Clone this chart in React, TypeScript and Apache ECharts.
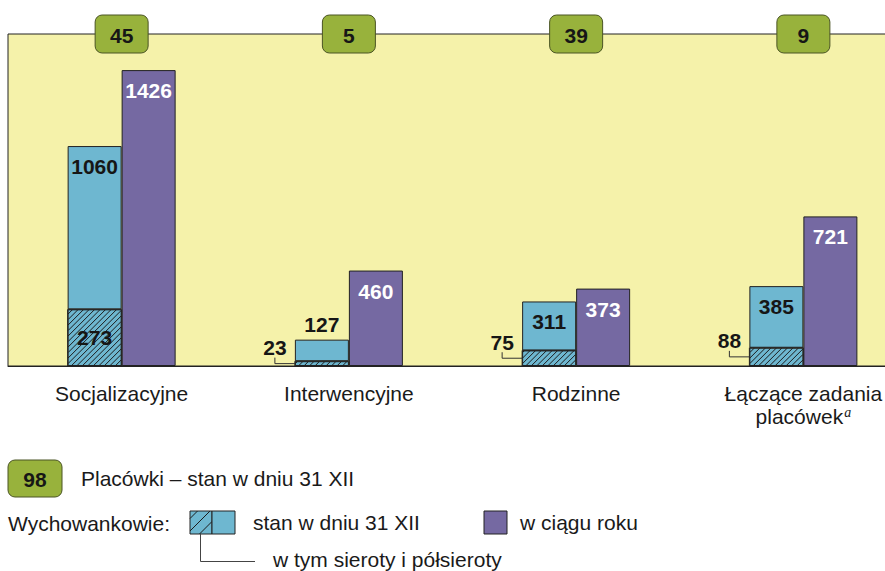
import React, { useEffect, useRef } from "react";
import * as echarts from "echarts";

const categories = ["Socjalizacyjne", "Interwencyjne", "Rodzinne", "Łączące zadania\nplacówek"];
const footnotes = ["", "", "", "a"];
const institutions = [45, 5, 39, 9];
const residentsEndOfYear = [1060, 127, 311, 385];
const orphans = [273, 23, 75, 88];
const residentsDuringYear = [1426, 460, 373, 721];
const institutionsTotal = 98;
const yMax = 1600;

const FONT = "Liberation Sans, Arial, sans-serif";
const FS = 21;
const BLUE = "#6EB7D0";
const PURPLE = "#7569A2";
const GREEN = "#98B23C";
const YELLOW = "#F5F2AA";
const DARK = "#1c1c1c";
const BAR_W = 54;
const HATCH_STEP = 5.5;

function hatch(left: number, top: number, right: number, bottom: number, step: number, stroke: string) {
  const out: any[] = [];
  for (let c = right + bottom; c > left + top; c -= step) {
    const x1 = Math.max(left, c - bottom);
    const x2 = Math.min(right, c - top);
    if (x2 - x1 > 0.3) {
      out.push({
        type: "line",
        shape: { x1, y1: c - x1, x2, y2: c - x2 },
        style: { stroke, lineWidth: 1 },
      });
    }
  }
  return out;
}

export default function App() {
  const ref = useRef<HTMLDivElement>(null);
  useEffect(() => {
    if (!ref.current) return;
    const chart = echarts.init(ref.current, undefined, { renderer: "svg" });

    const rest = residentsEndOfYear.map((t, i) => ({
      value: t - orphans[i],
      label: t < 200 ? { position: "top", distance: 5 } : { position: "insideTop", distance: 10 },
    }));

    const sx = 190, sy = 511, sw = 22, sh = 23;
    const legendHatch = hatch(sx, sy, sx + sw, sy + sh, 12.5, DARK);

    const txt = (text: string, x: number, y: number, extra: any = {}) => ({
      type: "text",
      x,
      y,
      style: {
        text,
        fill: "#1a1a1a",
        font: `${FS}px ${FONT}`,
        verticalAlign: "middle",
        textVerticalAlign: "middle",
        ...extra,
      },
    });

    chart.setOption({
      animation: false,
      grid: {
        left: 8,
        top: 34,
        width: 909,
        height: 332,
        outerBoundsMode: "none",
        containLabel: false,
        show: true,
        backgroundColor: YELLOW,
        borderColor: "#222",
        borderWidth: 1,
      },
      xAxis: {
        type: "category",
        data: categories,
        axisLine: { show: true, lineStyle: { color: "#222", width: 1 } },
        axisTick: { show: false },
        axisLabel: {
          margin: 16,
          interval: 0,
          hideOverlap: false,
          formatter: (value: string, idx: number) => {
            const lines = value.split("\n");
            const note = footnotes[idx];
            return lines
              .map((l, i) => `{n|${l}}` + (i === lines.length - 1 && note ? `{s|${note}}` : ""))
              .join("\n");
          },
          rich: {
            n: { fontSize: FS, fontFamily: FONT, color: "#1a1a1a", lineHeight: 23 },
            s: {
              fontSize: 14,
              fontFamily: "Liberation Serif, serif",
              fontStyle: "italic",
              color: "#1a1a1a",
              verticalAlign: "top",
              lineHeight: 23,
              padding: [0, 0, 10, 1],
            },
          },
        },
      },
      yAxis: { type: "value", min: 0, max: yMax, show: false, splitLine: { show: false } },
      series: [
        {
          type: "bar",
          stack: "end",
          data: orphans,
          barWidth: BAR_W,
          barGap: 0,
          itemStyle: { color: BLUE, borderColor: "#222", borderWidth: 1 },
          silent: true,
        },
        {
          type: "bar",
          stack: "end",
          data: rest,
          barWidth: BAR_W,
          barGap: 0,
          itemStyle: { color: BLUE, borderColor: "#222", borderWidth: 1 },
          label: {
            show: true,
            formatter: (p: any) => String(residentsEndOfYear[p.dataIndex]),
            color: "#161616",
            fontSize: FS,
            fontWeight: "bold",
            fontFamily: FONT,
          },
          silent: true,
        },
        {
          type: "bar",
          data: residentsDuringYear,
          barWidth: BAR_W,
          barGap: 0,
          itemStyle: { color: PURPLE, borderColor: "#222", borderWidth: 1 },
          label: {
            show: true,
            position: "insideTop",
            distance: 10,
            color: "#ffffff",
            fontSize: FS,
            fontWeight: "bold",
            fontFamily: FONT,
          },
          silent: true,
        },
        {
          type: "custom",
          data: orphans.map((v, i) => [i, v]),
          z: 10,
          silent: true,
          clip: false,
          renderItem: (params: any, api: any) => {
            const idx = api.value(0);
            const v = api.value(1);
            const base = api.coord([idx, 0]);
            const top = api.coord([idx, v]);
            const left = base[0] - BAR_W;
            const h = base[1] - top[1];
            const cy = (base[1] + top[1]) / 2;
            const font = `bold ${FS}px ${FONT}`;
            const lines = hatch(left + 0.5, top[1] + 0.5, base[0] - 0.5, base[1] - 0.5, HATCH_STEP, DARK);
            lines.push({
              type: "rect",
              shape: { x: left, y: top[1], width: BAR_W, height: h },
              style: { fill: null, stroke: "#222", lineWidth: 1 },
            });
            if (h > 30) {
              return {
                type: "group",
                children: [
                  ...lines,
                  {
                    type: "text",
                    x: base[0] - BAR_W / 2,
                    y: cy,
                    style: { text: String(v), fill: "#161616", font, align: "center", verticalAlign: "middle", textAlign: "center", textVerticalAlign: "middle" },
                  },
                ],
              };
            }
            const tx = left - 20;
            return {
              type: "group",
              children: [
                ...lines,
                {
                  type: "polyline",
                  shape: { points: [[tx, cy - 6], [tx, cy], [left, cy]] },
                  style: { stroke: "#333", lineWidth: 1, fill: null },
                },
                {
                  type: "text",
                  x: tx,
                  y: cy - 16,
                  style: { text: String(v), fill: "#161616", font, align: "center", verticalAlign: "middle", textAlign: "center", textVerticalAlign: "middle" },
                },
              ],
            };
          },
        },
        {
          type: "custom",
          data: institutions.map((v, i) => [i, yMax, v]),
          z: 20,
          silent: true,
          clip: false,
          renderItem: (params: any, api: any) => {
            const c = api.coord([api.value(0), api.value(1)]);
            return {
              type: "group",
              children: [
                {
                  type: "rect",
                  shape: { x: c[0] - 26.5, y: c[1] - 19, width: 53, height: 38, r: 7 },
                  style: { fill: GREEN, stroke: "#4a5424", lineWidth: 1 },
                },
                {
                  type: "text",
                  x: c[0],
                  y: c[1] + 1,
                  style: {
                    text: String(api.value(2)),
                    fill: "#161616",
                    font: `bold ${FS}px ${FONT}`,
                    align: "center",
                    verticalAlign: "middle",
                    textAlign: "center",
                    textVerticalAlign: "middle",
                  },
                },
              ],
            };
          },
        },
      ],
      graphic: [
        {
          type: "rect",
          shape: { x: 8, y: 460, width: 54, height: 37, r: 7 },
          style: { fill: GREEN, stroke: "#4a5424", lineWidth: 1 },
        },
        txt(String(institutionsTotal), 35, 479, { font: `bold ${FS}px ${FONT}`, align: "center", textAlign: "center", fill: "#161616" }),
        txt("Placówki – stan w dniu 31 XII", 81, 478),
        txt("Wychowankowie:", 8, 523),
        { type: "rect", shape: { x: sx, y: sy, width: sw, height: sh }, style: { fill: BLUE } },
        ...legendHatch,
        { type: "rect", shape: { x: sx, y: sy, width: sw, height: sh }, style: { fill: null, stroke: "#222", lineWidth: 1 } },
        { type: "rect", shape: { x: 212, y: sy, width: 23, height: sh }, style: { fill: BLUE, stroke: "#222", lineWidth: 1 } },
        txt("stan w dniu 31 XII", 253, 522),
        { type: "rect", shape: { x: 484, y: sy, width: 23, height: sh }, style: { fill: PURPLE, stroke: "#222", lineWidth: 1 } },
        txt("w ciągu roku", 520, 522),
        {
          type: "polyline",
          shape: { points: [[200.5, 534], [200.5, 561.5], [255, 561.5]] },
          style: { stroke: "#444", lineWidth: 1, fill: null },
        },
        txt("w tym sieroty i półsieroty", 273, 559),
      ],
    });
    return () => chart.dispose();
  }, []);
  return <div ref={ref} style={{ position: "absolute", left: 0, top: 0, width: 885, height: 571 }} />;
}
